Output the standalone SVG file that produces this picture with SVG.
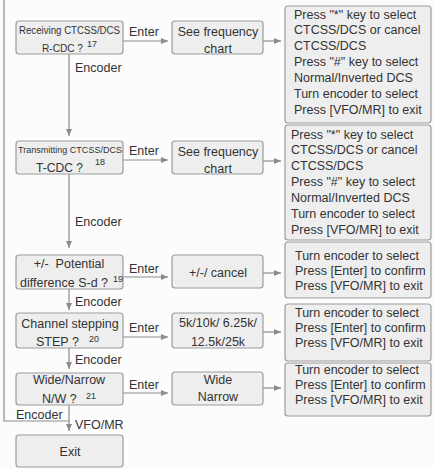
<svg xmlns="http://www.w3.org/2000/svg" width="434" height="469" viewBox="0 0 434 469">
<style>
.bx{fill:#eeeeee;stroke:#9c9c9c;stroke-width:1.2}
.t{font-family:"Liberation Sans",Arial,sans-serif;font-size:12.5px;fill:#333333}
.c{text-anchor:middle}
.sup{font-family:"Liberation Sans",Arial,sans-serif;font-size:9px;fill:#333333}
.ln{stroke:#8c8c8c;stroke-width:1.2;fill:none}
</style>
<defs>
<marker id="ah" markerUnits="userSpaceOnUse" markerWidth="7" markerHeight="6" refX="7" refY="3" orient="auto">
<path d="M0,0 L7,3 L0,6 z" fill="#8c8c8c"/>
</marker>
</defs>
<rect x="0" y="0" width="434" height="469" fill="#fcfcfc"/>

<g id="connectors">
<polyline class="ln" points="69,421 4,421 4,0"/>
<line class="ln" x1="69" y1="54" x2="69" y2="136" marker-end="url(#ah)"/>
<line class="ln" x1="69" y1="174" x2="69" y2="248" marker-end="url(#ah)"/>
<line class="ln" x1="69" y1="289" x2="69" y2="310" marker-end="url(#ah)"/>
<line class="ln" x1="69" y1="348" x2="69" y2="369" marker-end="url(#ah)"/>
<line class="ln" x1="69" y1="405" x2="69" y2="431" marker-end="url(#ah)"/>
<line class="ln" x1="123" y1="41" x2="168" y2="41" marker-end="url(#ah)"/>
<line class="ln" x1="123" y1="160" x2="168" y2="160" marker-end="url(#ah)"/>
<line class="ln" x1="123" y1="277" x2="168" y2="277" marker-end="url(#ah)"/>
<line class="ln" x1="123" y1="337" x2="168" y2="337" marker-end="url(#ah)"/>
<line class="ln" x1="123" y1="393" x2="168" y2="393" marker-end="url(#ah)"/>
<line class="ln" x1="263" y1="41" x2="281" y2="41" marker-end="url(#ah)"/>
<line class="ln" x1="263" y1="161" x2="281" y2="161" marker-end="url(#ah)"/>
<line class="ln" x1="263" y1="273" x2="281" y2="273" marker-end="url(#ah)"/>
<line class="ln" x1="263" y1="332" x2="281" y2="332" marker-end="url(#ah)"/>
<line class="ln" x1="263" y1="388" x2="281" y2="388" marker-end="url(#ah)"/>
<text class="t" x="75" y="72">Encoder</text>
<text class="t" x="75" y="226">Encoder</text>
<text class="t" x="75" y="306">Encoder</text>
<text class="t" x="75" y="364">Encoder</text>
<text class="t" x="16" y="419">Encoder</text>
<text class="t" x="75" y="429">VFO/MR</text>
<text class="t" x="129" y="36">Enter</text>
<text class="t" x="129" y="155">Enter</text>
<text class="t" x="129" y="273">Enter</text>
<text class="t" x="129" y="332">Enter</text>
<text class="t" x="129" y="389">Enter</text>
</g>

<g id="rcdc">
<rect class="bx" x="16" y="21" width="107" height="33" rx="3"/>
<text class="t" x="19" y="33.5" style="font-size:10px" textLength="101" lengthAdjust="spacingAndGlyphs">Receiving CTCSS/DCS</text>
<text class="t" x="42" y="52" style="font-size:10.5px" textLength="41" lengthAdjust="spacingAndGlyphs">R-CDC ?</text>
<text class="sup" x="87" y="47">17</text>
</g>
<g id="freq1">
<rect class="bx" x="172" y="21" width="91" height="33" rx="3"/>
<text class="t c" x="218" y="36">See frequency</text>
<text class="t c" x="218" y="52.5">chart</text>
</g>
<g id="info1">
<rect class="bx" x="285" y="6" width="146" height="117" rx="3"/>
<text class="t" x="294" y="18.5">Press "*" key to select</text>
<text class="t" x="294" y="34.3">CTCSS/DCS or cancel</text>
<text class="t" x="294" y="50.2">CTCSS/DCS</text>
<text class="t" x="294" y="66">Press "#" key to select</text>
<text class="t" x="294" y="81.8">Normal/Inverted DCS</text>
<text class="t" x="294" y="97.7">Turn encoder to select</text>
<text class="t" x="294" y="113.5">Press [VFO/MR] to exit</text>
</g>

<g id="tcdc">
<rect class="bx" x="16" y="141" width="107" height="33" rx="3"/>
<text class="t" x="18" y="153" style="font-size:9px" textLength="104" lengthAdjust="spacingAndGlyphs">Transmitting CTCSS/DCS</text>
<text class="t" x="36" y="172" style="font-size:13px" textLength="47" lengthAdjust="spacingAndGlyphs">T-CDC ?</text>
<text class="sup" x="95" y="165">18</text>
</g>
<g id="freq2">
<rect class="bx" x="172" y="141" width="91" height="33" rx="3"/>
<text class="t c" x="218" y="156">See frequency</text>
<text class="t c" x="218" y="172.5">chart</text>
</g>
<g id="info2">
<rect class="bx" x="285" y="125" width="146" height="115" rx="3"/>
<text class="t" x="291" y="138.5">Press "*" key to select</text>
<text class="t" x="291" y="154.3">CTCSS/DCS or cancel</text>
<text class="t" x="291" y="170.2">CTCSS/DCS</text>
<text class="t" x="291" y="186">Press "#" key to select</text>
<text class="t" x="291" y="201.8">Normal/Inverted DCS</text>
<text class="t" x="291" y="217.7">Turn encoder to select</text>
<text class="t" x="291" y="233.5">Press [VFO/MR] to exit</text>
</g>

<g id="sd">
<rect class="bx" x="16" y="255" width="107" height="34" rx="3"/>
<text class="t c" x="69" y="267.5" xml:space="preserve">+/-  Potential</text>
<text class="t" x="20" y="286.5">difference S-d ?</text>
<text class="sup" x="113" y="282">19</text>
</g>
<g id="pm">
<rect class="bx" x="172" y="255" width="91" height="33" rx="3"/>
<text class="t c" x="218" y="277">+/-/ cancel</text>
</g>
<g id="info3">
<rect class="bx" x="285" y="242" width="146" height="56" rx="3"/>
<text class="t" x="295" y="259.5">Turn encoder to select</text>
<text class="t" x="295" y="274.5">Press [Enter] to confirm</text>
<text class="t" x="295" y="289.5">Press [VFO/MR] to exit</text>
</g>

<g id="step">
<rect class="bx" x="16" y="313" width="107" height="35" rx="3"/>
<text class="t c" x="70" y="327.5">Channel stepping</text>
<text class="t" x="36" y="345.5">STEP ?</text>
<text class="sup" x="89" y="342">20</text>
</g>
<g id="steps">
<rect class="bx" x="172" y="313" width="91" height="35" rx="3"/>
<text class="t c" x="218" y="326.5">5k/10k/ 6.25k/</text>
<text class="t c" x="218" y="345.5">12.5k/25k</text>
</g>
<g id="info4">
<rect class="bx" x="285" y="304" width="146" height="57" rx="3"/>
<text class="t" x="295" y="317">Turn encoder to select</text>
<text class="t" x="295" y="332">Press [Enter] to confirm</text>
<text class="t" x="295" y="347">Press [VFO/MR] to exit</text>
</g>

<g id="nw">
<rect class="bx" x="16" y="373" width="107" height="32" rx="3"/>
<text class="t c" x="69" y="383.5">Wide/Narrow</text>
<text class="t" x="42" y="402.5">N/W ?</text>
<text class="sup" x="86" y="399">21</text>
</g>
<g id="wn">
<rect class="bx" x="172" y="372" width="91" height="33" rx="3"/>
<text class="t c" x="218" y="384">Wide</text>
<text class="t c" x="218" y="401">Narrow</text>
</g>
<g id="info5">
<rect class="bx" x="285" y="363" width="146" height="53" rx="3"/>
<text class="t" x="295" y="374">Turn encoder to select</text>
<text class="t" x="295" y="389">Press [Enter] to confirm</text>
<text class="t" x="295" y="404">Press [VFO/MR] to exit</text>
</g>

<g id="exit">
<rect class="bx" x="16" y="435" width="107" height="32" rx="3"/>
<text class="t c" x="70" y="455.5">Exit</text>
</g>
</svg>
